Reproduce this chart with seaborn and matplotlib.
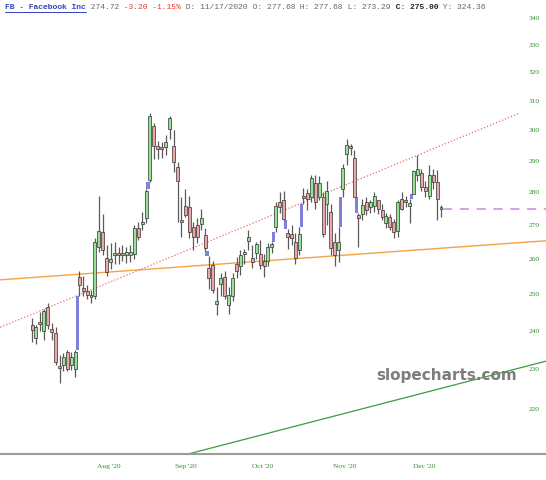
import matplotlib
matplotlib.use("Agg")
import matplotlib.pyplot as plt
from matplotlib.lines import Line2D
from matplotlib.ticker import NullLocator
import numpy as np
import pandas as pd
import seaborn as sns

sns.set_theme(style="white")
plt.rcParams["font.family"] = ["DejaVu Sans"]

# FB daily candles, trading days 15 Jul 2020 .. 10 Dec 2020
opens = [241.5, 238.0, 242.3, 240.0, 246.5, 240.5, 239.3, 230.8, 231.0, 234.3, 231.0, 230.0, 254.8,
         251.6, 250.8, 249.8, 249.4, 263.5, 267.8, 260.3, 259.0, 261.0, 261.8, 261.8, 261.0, 261.2, 261.5, 269.0, 270.3, 272.0, 283.8, 301.4, 294.8, 294.5,
         294.5, 300.3, 294.8, 288.0, 271.3, 275.7, 275.5, 269.5, 270.0, 270.3, 267.0, 257.5, 258.3, 247.3, 252.8, 254.8, 247.0, 249.4, 258.5, 257.8, 261.3,
         265.3, 260.3, 261.6, 261.4, 259.4, 259.4, 263.6, 269.5, 277.0, 277.5, 267.5, 267.3, 265.0, 262.6, 279.0, 279.8, 278.5, 283.0, 278.6, 278.5, 276.3, 273.8,
         264.8, 262.6, 281.0, 292.3, 294.9, 291.0, 272.9, 273.3, 277.0, 275.5, 275.7, 277.68, 274.5, 270.6, 272.3, 270.8, 268.2, 278.0, 277.5, 275.8,
         279.6, 285.4, 286.0, 281.6, 278.8, 285.3, 283.2, 275.2]
highs = [243.5, 241.5, 245.0, 246.0, 247.5, 242.0, 241.0, 233.5, 234.0, 235.0, 234.5, 234.8, 256.5,
         255.0, 252.5, 251.0, 266.0, 279.0, 273.3, 264.0, 264.5, 265.0, 263.5, 264.0, 263.5, 264.0, 270.0, 271.0, 274.0, 281.0, 305.8, 302.5, 296.5, 296.0,
         298.5, 304.8, 300.0, 289.5, 278.5, 281.0, 279.0, 271.0, 272.0, 275.0, 269.0, 260.8, 259.5, 252.0, 256.0, 256.5, 252.0, 256.0, 260.5, 262.5, 263.0,
         268.5, 264.0, 265.0, 265.5, 261.5, 264.5, 265.0, 277.0, 280.0, 280.5, 268.7, 270.0, 267.5, 269.3, 281.5, 281.0, 285.5, 285.5, 285.0, 280.0, 283.5, 276.5,
         267.5, 269.3, 289.0, 297.2, 295.5, 293.5, 273.6, 278.0, 278.5, 277.5, 280.0, 277.68, 276.5, 273.5, 273.3, 271.8, 277.5, 280.0, 279.0, 277.8,
         287.0, 291.8, 287.5, 283.5, 288.5, 287.5, 287.0, 276.2]
lows = [237.0, 236.5, 240.0, 237.5, 240.5, 237.5, 231.0, 226.5, 229.5, 229.5, 229.6, 228.0, 249.5,
        249.5, 248.5, 247.5, 248.5, 262.0, 261.0, 255.0, 257.0, 258.5, 258.5, 259.5, 258.8, 259.2, 260.0, 265.5, 268.5, 270.5, 283.3, 290.5, 290.5, 291.0,
        292.0, 297.0, 286.5, 271.0, 266.5, 272.5, 266.0, 262.6, 264.5, 268.5, 262.3, 251.5, 250.4, 244.3, 249.5, 248.5, 244.6, 248.0, 254.5, 255.5, 258.5,
        262.5, 257.5, 260.0, 257.0, 254.8, 258.0, 261.8, 267.8, 273.5, 271.4, 263.0, 264.0, 258.5, 261.0, 276.3, 274.5, 277.0, 274.8, 277.5, 266.5, 270.0, 261.0,
        257.8, 259.0, 278.6, 288.5, 291.8, 278.5, 263.6, 271.5, 273.0, 273.5, 274.0, 273.29, 271.5, 269.0, 268.5, 266.0, 266.5, 274.5, 275.5, 270.5,
        279.4, 283.5, 280.5, 278.5, 278.0, 281.0, 271.4, 272.5]
closes = [240.3, 240.9, 241.8, 245.4, 241.5, 239.6, 231.8, 230.2, 233.2, 230.0, 233.0, 234.3, 252.6,
          250.8, 249.8, 249.2, 264.8, 268.3, 262.6, 256.3, 259.9, 261.6, 261.2, 261.2, 262.0, 262.0, 269.0, 266.5, 270.8, 280.5, 304.8, 294.8, 294.0, 294.0,
          296.2, 304.3, 289.7, 283.5, 271.0, 273.0, 268.0, 266.4, 266.4, 272.0, 263.3, 254.5, 251.0, 248.2, 254.5, 249.4, 249.7, 254.5, 256.5, 261.0, 261.8,
          266.4, 259.2, 264.3, 258.3, 257.8, 263.5, 264.3, 275.7, 275.5, 271.7, 266.5, 266.0, 260.3, 267.2, 278.2, 277.9, 284.5, 277.0, 283.0, 267.2, 280.5, 263.3,
          261.0, 265.0, 287.6, 295.2, 294.3, 278.6, 272.2, 276.0, 274.6, 277.0, 278.8, 275.00, 272.4, 272.6, 269.3, 268.0, 277.0, 274.8, 277.0, 276.8,
          286.6, 287.3, 281.6, 280.5, 285.3, 283.3, 277.9, 274.72]

month_labels = ["Aug '20", "Sep '20", "Oct '20", "Nov '20", "Dec '20"]
month_pos = [19.6, 39.2, 58.7, 79.6, 99.7]
price_ticks = [220, 230, 240, 250, 260, 270, 280, 290, 300, 310, 320, 330, 340]

# trend lines: (bar index, price) end points
orange_x, orange_y = [-8.1, 130.7], [254.0, 265.3]
red_x, red_y = [-8.1, 123.6], [240.9, 305.6]
green_x, green_y = [39.7, 130.7], [209.2, 232.0]
last_x = [104.5, 130.7]
last_price = 274.72

df = pd.DataFrame({"open": opens, "high": highs, "low": lows, "close": closes})
df["i"] = np.arange(len(df))
up = df["close"] >= df["open"]

fig = plt.figure(figsize=(5.46, 4.80), dpi=100)
ax = fig.add_axes([0, 1 - 454 / 480, 1, 454 / 480])
ax.set_yscale("log")

# gaps between bars (blue)
prev_high = df["high"].shift(1)
prev_low = df["low"].shift(1)
gap_up = df["low"] > prev_high
gap_dn = df["high"] < prev_low
gu = df[gap_up]
ax.bar(gu["i"] - 0.5, gu["low"] - prev_high[gap_up], bottom=prev_high[gap_up],
       width=0.8, color="#7f7fdc", linewidth=0, zorder=2)
gd = df[gap_dn]
ax.bar(gd["i"] - 0.5, prev_low[gap_dn] - gd["high"], bottom=gd["high"],
       width=0.8, color="#7f7fdc", linewidth=0, zorder=2)

# wicks
ax.vlines(df["i"], df["low"], df["high"], color="#5a5a5a", linewidth=0.9, zorder=3)

# bodies
body_lo = df[["open", "close"]].min(axis=1)
body_h = (df["close"] - df["open"]).abs().clip(lower=0.6)
ax.bar(df["i"][up], body_h[up], bottom=body_lo[up], width=0.76,
       color="#93e493", edgecolor="#333333", linewidth=0.5, zorder=4)
ax.bar(df["i"][~up], body_h[~up], bottom=body_lo[~up], width=0.76,
       color="#eda6a6", edgecolor="#333333", linewidth=0.5, zorder=4)

# trend lines
sns.lineplot(x=orange_x, y=orange_y, ax=ax, color="#f5a442", linewidth=1.0, zorder=1)
sns.lineplot(x=red_x, y=red_y, ax=ax, color="#ee6b6b", linewidth=0.9,
             linestyle=(0, (1, 1.6)), zorder=1)
sns.lineplot(x=green_x, y=green_y, ax=ax, color="#3f9a3f", linewidth=0.9, zorder=1)
sns.lineplot(x=last_x, y=[last_price, last_price], ax=ax, color="#c58ae0",
             linewidth=1.1, linestyle=(0, (6, 5)), zorder=1)

ax.set_xlim(-8.14, 130.7)
ax.set_ylim(209.2, 346.9)

ax.yaxis.tick_right()
ax.set_yticks(price_ticks, [str(t) for t in price_ticks])
ax.yaxis.set_minor_locator(NullLocator())
ax.tick_params(axis="y", length=0, pad=-12.5, labelsize=5.4, labelcolor="#2f8f2f")
for lab in ax.get_yticklabels():
    lab.set_fontfamily("Liberation Serif")
    lab.set_horizontalalignment("left")

ax.set_xticks(month_pos, month_labels)
ax.tick_params(axis="x", length=0, pad=7, labelsize=5.4, labelcolor="#2f8f2f")
for lab in ax.get_xticklabels():
    lab.set_fontfamily("Liberation Serif")

ax.set_xlabel("")
ax.set_ylabel("")
ax.grid(False)
for s in ["top", "left", "right"]:
    ax.spines[s].set_visible(False)
ax.spines["bottom"].set_color("#9a9a9a")
ax.spines["bottom"].set_linewidth(1.5)

# header line
header = [("FB - Facebook Inc", "#3344bb", "bold"), (" 274.72", "#666666", "normal"),
          (" -3.20 -1.15%", "#e03a3a", "normal"), (" D: 11/17/2020", "#666666", "normal"),
          (" O: 277.68", "#666666", "normal"), (" H: 277.68", "#666666", "normal"),
          (" L: 273.29", "#666666", "normal"), (" C: 275.00", "#222222", "bold"),
          (" Y: 324.36", "#666666", "normal")]
cw = 4.76
n = 0
for txt, col, wt in header:
    fig.text((5 + n * cw) / 546, 1 - 7.5 / 480, txt, color=col, fontweight=wt,
             fontsize=5.8, family="Liberation Mono", va="center", ha="left")
    n += len(txt)
fig.add_artist(Line2D([5 / 546, (5 + 17 * cw) / 546], [1 - 12 / 480, 1 - 12 / 480],
                      color="#3344bb", linewidth=0.7))

ax.text(0.818, 0.172, "slopecharts.com", transform=ax.transAxes, ha="center", va="center",
        fontsize=11, fontweight="bold", color="#7d7d7d", family="DejaVu Sans")

fig.savefig("out.png", dpi=100)
